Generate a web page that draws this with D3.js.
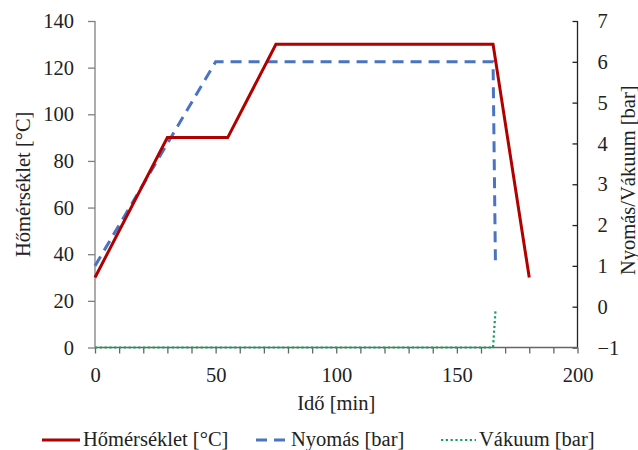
<!DOCTYPE html>
<html><head><meta charset="utf-8">
<script src="https://cdn.jsdelivr.net/npm/d3@7"></script>
<style>body{margin:0;background:#fff}svg text{font-family:"Liberation Serif","Times New Roman",serif !important;fill:#222}</style>
</head><body><svg id="c" width="638" height="450"></svg>
<script>
const xTicks = [0, 50, 100, 150, 200];
const yLeftTicks = [0, 20, 40, 60, 80, 100, 120, 140];
const yRightTicks = [-1, 0, 1, 2, 3, 4, 5, 6, 7];
const tempTime = [0, 30, 55, 75, 165, 180];
const tempVal = [30, 90, 90, 130, 130, 30];
const presTime = [0, 50, 165, 166];
const presVal = [1, 6, 6, 1];
const vacTime = [0, 165, 166];
const vacVal = [-1, -1, -0.1];
const seriesNames = ["Hőmérséklet [°C]", "Nyomás [bar]", "Vákuum [bar]"];

const FF = "'Liberation Serif', 'Times New Roman', serif";
const svg = d3.select("#c").attr("font-family", FF);
const L = 95, R = 577.5, T = 21, B = 347.5;
const x = d3.scaleLinear().domain([0, 200]).range([L, R]);
const yL = d3.scaleLinear().domain([0, 140]).range([B, T]);
const yR = d3.scaleLinear().domain([-1, 7]).range([B, T]);
const fs = "20.5px";

// left axis
const gl = svg.append("g").attr("transform", `translate(${L},0)`)
  .call(d3.axisLeft(yL).tickValues(yLeftTicks).tickSize(7).tickPadding(14));
gl.attr("font-family", FF);
gl.selectAll("path,line").attr("stroke", "#808080").attr("stroke-width", 1.3);
gl.selectAll("text").style("font-size", fs).attr("font-family", FF);
gl.select(".domain").attr("d", `M0,${B}V${T}`);

// right axis (ticks inward)
const gr = svg.append("g").attr("transform", `translate(${R},0)`)
  .call(d3.axisRight(yR).tickValues(yRightTicks).tickSize(-5).tickPadding(20));
gr.attr("font-family", FF);
gr.selectAll("path,line").attr("stroke", "#222").attr("stroke-width", 1.3);
gr.selectAll("text").style("font-size", fs).attr("x", 20).attr("font-family", FF);
gr.select(".domain").attr("d", `M0,${B}V${T}`);

// bottom axis minor ticks
const gbm = svg.append("g").attr("transform", `translate(0,${B})`)
  .call(d3.axisBottom(x).tickValues(d3.range(0, 201, 10)).tickSize(6).tickFormat(""));
gbm.selectAll("path,line").attr("stroke", "#666").attr("stroke-width", 1.3);
gbm.select(".domain").attr("d", `M${L},0H${R}`);
const gb = svg.append("g").attr("transform", `translate(0,${B})`)
  .call(d3.axisBottom(x).tickValues(xTicks).tickSize(0).tickPadding(20));
gb.attr("font-family", FF);
gb.select(".domain").remove();
gb.selectAll("text").style("font-size", fs).attr("font-family", FF);

// titles
svg.append("text").attr("x", (L + R) / 2).attr("y", 410).attr("text-anchor", "middle")
  .style("font-size", fs).text("Idő [min]");
svg.append("text").attr("transform", `translate(30,${(T + B) / 2}) rotate(-90)`)
  .attr("text-anchor", "middle").style("font-size", fs).text("Hőmérséklet [°C]");
svg.append("text").attr("transform", `translate(635,${(T + B) / 2 - 4}) rotate(-90)`)
  .attr("text-anchor", "middle").style("font-size", fs).text("Nyomás/Vákuum [bar]");

const styles = [
  {c: "#b00000", w: 3, d: null},
  {c: "#4a74c0", w: 3, d: "11,7"},
  {c: "#11a060", w: 2.2, d: "2.2,2.6"}
];
const line = (ys) => d3.line().x(d => x(d[0])).y(d => ys(d[1]));
svg.append("path").datum(vacTime.map((t, i) => [t, vacVal[i]]))
  .attr("d", line(yR)).attr("fill", "none").attr("stroke", styles[2].c)
  .attr("stroke-width", styles[2].w).attr("stroke-dasharray", styles[2].d);
svg.append("path").datum(presTime.map((t, i) => [t, presVal[i]]))
  .attr("d", line(yR)).attr("fill", "none").attr("stroke", styles[1].c)
  .attr("stroke-width", styles[1].w).attr("stroke-dasharray", styles[1].d);
svg.append("path").datum(tempTime.map((t, i) => [t, tempVal[i]]))
  .attr("d", line(yL)).attr("fill", "none").attr("stroke", styles[0].c)
  .attr("stroke-width", styles[0].w).attr("stroke-linejoin", "miter");

// legend
const legX = [42, 256, 441];
const legLen = [38, 32, 35];
seriesNames.forEach((n, i) => {
  const g = svg.append("g");
  g.append("line").attr("x1", legX[i]).attr("x2", legX[i] + legLen[i]).attr("y1", 440).attr("y2", 440)
    .attr("stroke", styles[i].c).attr("stroke-width", styles[i].w).attr("stroke-dasharray", styles[i].d);
  g.append("text").attr("x", legX[i] + legLen[i] + 3).attr("y", 446).style("font-size", fs).text(n);
});
</script></body></html>
